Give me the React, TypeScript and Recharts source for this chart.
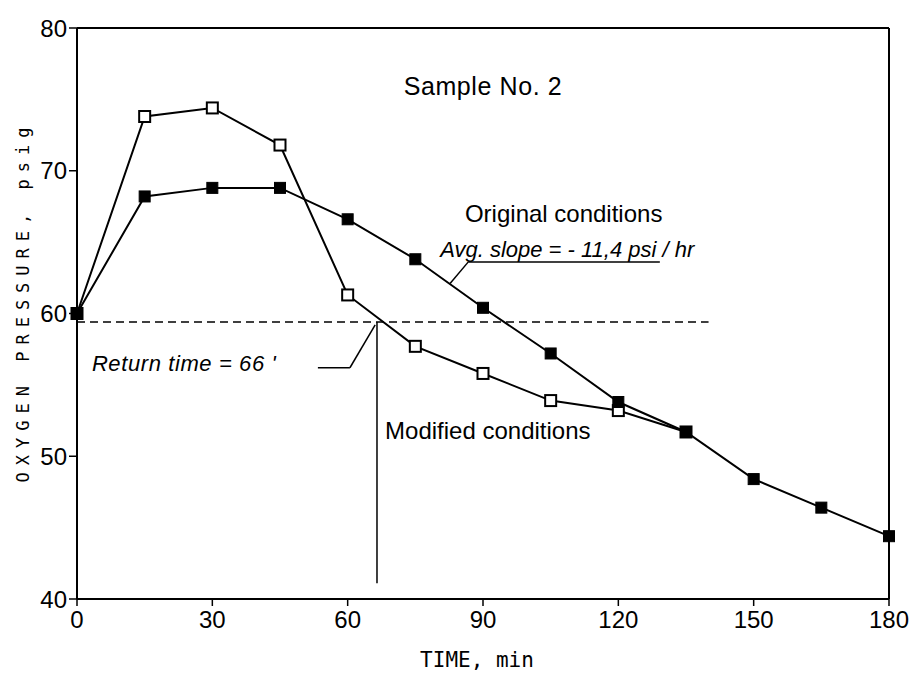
import React from "react";
import {
  Label,
  Line,
  LineChart,
  ReferenceDot,
  ReferenceLine,
  XAxis,
  YAxis,
} from "recharts";

// time, min
const times = [0, 15, 30, 45, 60, 75, 90, 105, 120, 135, 150, 165, 180];
// oxygen pressure, psig
const originalPsig = [60, 68.2, 68.8, 68.8, 66.6, 63.8, 60.4, 57.2, 53.8, 51.7, 48.4, 46.4, 44.4];
const modifiedPsig = [60, 73.8, 74.4, 71.8, 61.3, 57.7, 55.8, 53.9, 53.2, 51.7];

const xTicks = [0, 30, 60, 90, 120, 150, 180];
const yTicks = [40, 50, 60, 70, 80];

const returnLevel = 59.4;
const returnTime = 66.5;

const data = times.map((t, i) => ({
  t,
  original: originalPsig[i],
  modified: i < modifiedPsig.length ? modifiedPsig[i] : null,
}));

const SANS = "'Liberation Sans', Arial, sans-serif";
const MONO = "'DejaVu Sans Mono', monospace";

const square = (filled: boolean) => (props: any) => {
  const { cx, cy, index } = props;
  if (cx == null || cy == null) return <g key={`e-${index}`} />;
  return (
    <rect
      key={`s-${index}`}
      x={cx - 5.5}
      y={cy - 5.5}
      width={11}
      height={11}
      fill={filled ? "#000" : "#fff"}
      stroke="#000"
      strokeWidth={filled ? 1 : 2}
    />
  );
};

const note = (text: string, size: number, italic = false, position: any = "right", spacing = 0) => ({
  value: text,
  position,
  offset: 0,
  fill: "#000",
  fontSize: size,
  fontFamily: SANS,
  fontStyle: italic ? "italic" : "normal",
  letterSpacing: spacing,
});

export default function App() {
  return (
    <div style={{ position: "absolute", left: 0, top: 0, width: 913, height: 673, background: "#fff" }}>
      <LineChart width={913} height={673} data={data} margin={{ top: 28, right: 24, bottom: 0, left: 0 }}>
        <XAxis
          dataKey="t"
          type="number"
          domain={[0, 180]}
          ticks={xTicks}
          height={74}
          tickSize={7}
          tickMargin={5}
          axisLine={{ stroke: "#000", strokeWidth: 2 }}
          tickLine={{ stroke: "#000", strokeWidth: 1.5 }}
          tick={{ fill: "#000", fontSize: 24, fontFamily: SANS }}
        >
          <Label
            value="TIME, min"
            position="insideBottom"
            offset={6}
            dx={-6}
            fill="#000"
            fontSize={21}
            fontFamily={MONO}
          />
        </XAxis>
        <YAxis
          type="number"
          domain={[40, 80]}
          ticks={yTicks}
          width={77}
          tickSize={8}
          tickMargin={2}
          axisLine={{ stroke: "#000", strokeWidth: 2 }}
          tickLine={{ stroke: "#000", strokeWidth: 1.5 }}
          tick={{ fill: "#000", fontSize: 24, fontFamily: SANS }}
        >
          <Label
            value="OXYGEN PRESSURE, psig"
            angle={-90}
            position="center"
            dx={-15.5}
            dy={-12}
            fill="#000"
            fontSize={17}
            fontFamily={MONO}
            letterSpacing={7}
          />
        </YAxis>

        {/* frame */}
        <ReferenceLine y={80} stroke="#000" strokeWidth={2} />
        <ReferenceLine x={180} stroke="#000" strokeWidth={2} />

        {/* return time construction */}
        <ReferenceLine
          segment={[{ x: 0, y: returnLevel }, { x: 140, y: returnLevel }]}
          stroke="#000"
          strokeWidth={1.5}
          strokeDasharray="8 5"
        />
        <ReferenceLine
          segment={[{ x: returnTime, y: returnLevel }, { x: returnTime, y: 41.1 }]}
          stroke="#000"
          strokeWidth={1.5}
        />
        <ReferenceLine segment={[{ x: 53.4, y: 56.2 }, { x: 60.5, y: 56.2 }]} stroke="#000" strokeWidth={1.5} />
        <ReferenceLine segment={[{ x: 60.5, y: 56.2 }, { x: 66.1, y: 59.2 }]} stroke="#000" strokeWidth={1.5} />

        {/* slope leader */}
        <ReferenceLine segment={[{ x: 82.7, y: 62.1 }, { x: 86.7, y: 63.6 }]} stroke="#000" strokeWidth={1.5} />
        <ReferenceLine segment={[{ x: 86.7, y: 63.6 }, { x: 129.2, y: 63.6 }]} stroke="#000" strokeWidth={1.5} />

        <Line
          type="linear"
          dataKey="modified"
          stroke="#000"
          strokeWidth={2}
          dot={square(false)}
          activeDot={false}
          isAnimationActive={false}
        />
        <Line
          type="linear"
          dataKey="original"
          stroke="#000"
          strokeWidth={2}
          dot={square(true)}
          activeDot={false}
          isAnimationActive={false}
        />

        <ReferenceDot x={90} y={75.9} r={0} fill="none" stroke="none" label={note("Sample No. 2", 25, false, "center", 0.6)} />
        <ReferenceDot x={86} y={67.0} r={0} fill="none" stroke="none" label={note("Original conditions", 24)} />
        <ReferenceDot x={80.5} y={64.5} r={0} fill="none" stroke="none" label={note("Avg. slope = - 11,4  psi / hr", 22, true)} />
        <ReferenceDot x={3.3} y={56.5} r={0} fill="none" stroke="none" label={note("Return time = 66 '", 22, true, "right", 0.6)} />
        <ReferenceDot x={68.3} y={51.8} r={0} fill="none" stroke="none" label={note("Modified conditions", 24)} />
      </LineChart>
    </div>
  );
}
